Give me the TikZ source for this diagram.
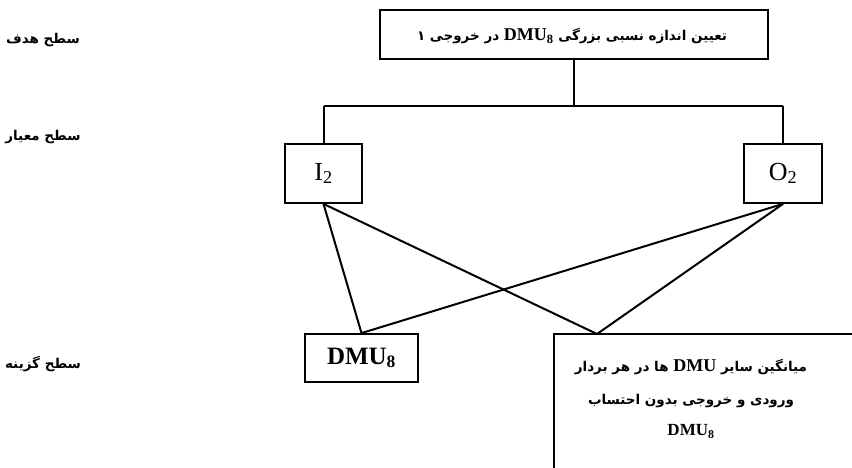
\documentclass[tikz,border=0pt]{standalone}
\usepackage{fontspec}
\setmainfont{Liberation Serif}
\newfontfamily\arabicfont[Script=Arabic]{DejaVu Sans}
\TeXXeTstate=1
\begin{document}
\begin{tikzpicture}[x=1pt,y=-1pt,
  box/.style={draw,line width=1.8pt,inner sep=0pt},
  conn/.style={line width=2pt},
  lvl/.style={font=\arabicfont\fontsize{13.5}{16}\selectfont\bfseries,anchor=center},
  ar/.style={font=\arabicfont\fontsize{13.5}{16}\selectfont\bfseries}
]
\useasboundingbox (0,0) rectangle (852,468);
% level labels
\node[lvl] (l1) at (43,40) {\beginR سطح هدف\endR};
\node[lvl] (l2) at (43,137) {\beginR سطح معیار\endR};
\node[lvl] (l3) at (43,364) {\beginR سطح گزینه\endR};
% goal box
\node[box,minimum width=388pt,minimum height=49pt] (goal) at (574,34.5) {};
\node[ar] (goalt) at (572,36) {\beginR تعیین اندازه نسبی بزرگی \beginL{\rmfamily\fontsize{18}{18}\selectfont DMU\textsubscript{8}}\endL{} در خروجی ۱\endR};
% criteria
\node[box,minimum width=77pt,minimum height=59pt,font=\fontsize{26}{28}\selectfont] (i2) at (323.5,173.5) {I\textsubscript{2}};
\node[box,minimum width=78pt,minimum height=59pt,font=\fontsize{26}{28}\selectfont] (o2) at (783,173.5) {O\textsubscript{2}};
% alternatives
\node[box,minimum width=113pt,minimum height=48pt,font=\fontsize{25}{26}\selectfont\bfseries] (dmu) at (361.5,358) {DMU\textsubscript{8}};
\coordinate (bigtl) at (554,334);
\coordinate (bigtr) at (852,334);
\coordinate (bigbl) at (554,468);
\coordinate (bigin) at (597,334);
\draw[line width=1.8pt] (bigtr) -- (bigtl) -- (bigbl);
\node[ar,align=center] (bigt) at (691,399) {\beginR میانگین سایر \beginL{\rmfamily\fontsize{18}{18}\selectfont DMU}\endL{} ها در هر بردار\endR\\[17pt]
\beginR ورودی و خروجی بدون احتساب\endR\\[15pt]
{\rmfamily\fontsize{17}{18}\selectfont DMU\textsubscript{8}}};
% tree connectors
\coordinate (j) at (574,106);
\coordinate (jl) at (323.5,106);
\coordinate (jr) at (783,106);
\draw[conn] (goal.south) -- (j);
\draw[conn] (jl) -- (jr);
\draw[conn] (jl) -- (i2.north);
\draw[conn] (jr) -- (o2.north);
% cross connectors
\draw[conn] (i2.south) -- (dmu.north);
\draw[conn] (i2.south) -- (bigin);
\draw[conn] (o2.south) -- (dmu.north);
\draw[conn] (o2.south) -- (bigin);
\end{tikzpicture}
\end{document}
